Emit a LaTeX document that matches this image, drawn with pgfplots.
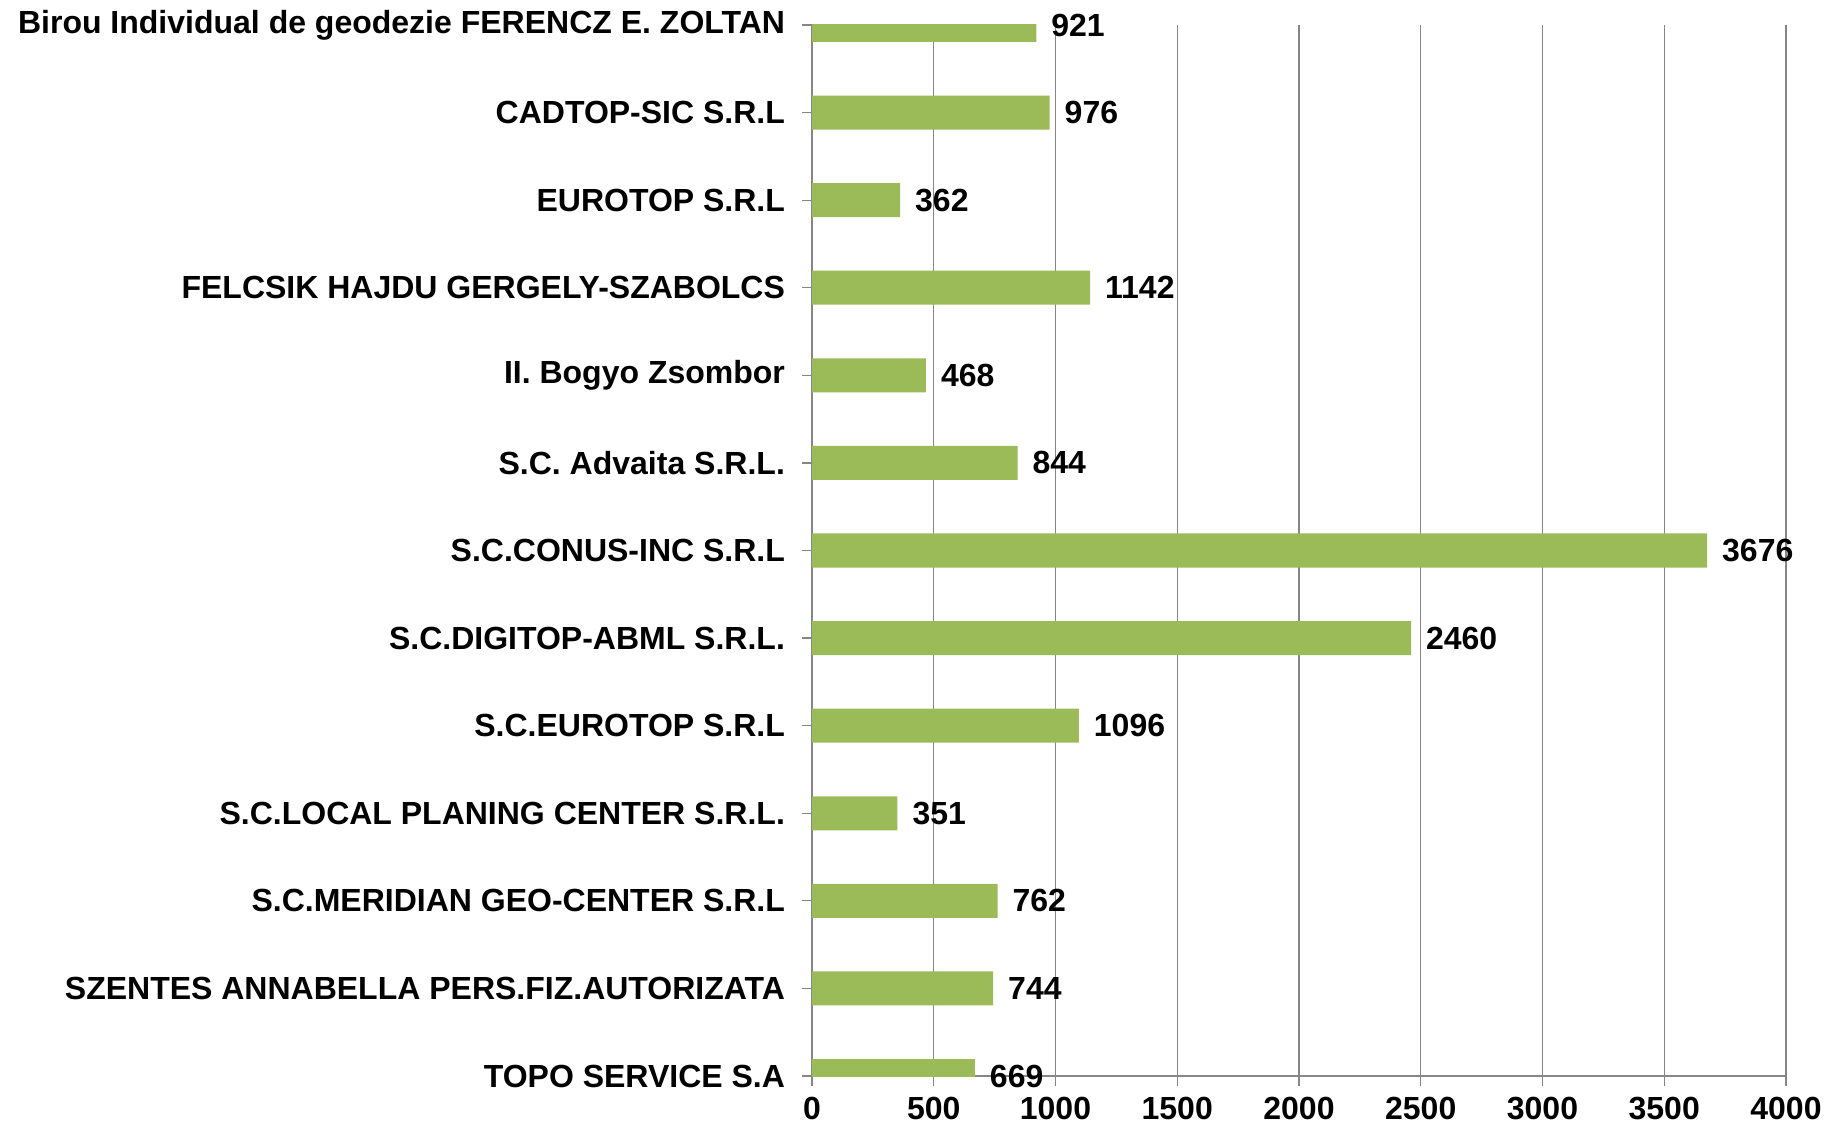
\documentclass[border=0pt]{standalone}
\usepackage{fontspec}
\setmainfont{Liberation Sans}
\usepackage{pgfplots}
\pgfplotsset{compat=1.18}
\definecolor{barGreen}{HTML}{9BBB59}
\definecolor{gridGray}{HTML}{868686}
\newcommand{\lblfont}{\bfseries\fontsize{16}{18}\selectfont}

\begin{document}
\begin{tikzpicture}
\begin{axis}[
  xbar,
  scale only axis,
  width=487pt, height=525.5pt,
  bar width=17pt,
  xmin=0, xmax=4000,
  ymin=0, ymax=12,
  xtick={0,500,...,4000},
  ytick={0,...,12},
  yticklabels={
    TOPO SERVICE S.A,
    SZENTES ANNABELLA PERS.FIZ.AUTORIZATA,
    S.C.MERIDIAN GEO-CENTER S.R.L,
    S.C.LOCAL PLANING CENTER S.R.L.,
    S.C.EUROTOP S.R.L,
    S.C.DIGITOP-ABML S.R.L.,
    S.C.CONUS-INC S.R.L\hspace{4.7pt},
    S.C. Advaita S.R.L.,
    II. Bogyo Zsombor,
    FELCSIK HAJDU GERGELY-SZABOLCS,
    EUROTOP S.R.L,
    CADTOP-SIC S.R.L,
    Birou Individual de geodezie FERENCZ E. ZOLTAN},
  axis x line*=bottom,
  axis y line*=left,
  axis line style={gridGray, line width=0.6pt, -},
  xmajorgrids,
  grid style={gridGray, line width=0.6pt},
  tick align=outside,
  major tick length=5pt,
  tick style={gridGray, line width=0.6pt},
  /pgf/number format/assume math mode=true,
  /pgf/number format/set thousands separator={},
  tick label style={font=\lblfont, text=black},
  yticklabel style={xshift=-5pt},
  xticklabel style={yshift=-2pt},
  nodes near coords,
  nodes near coords style={font=\lblfont, text=black, anchor=west, xshift=4pt},
]
  \addplot[fill=barGreen, draw=none] coordinates {
    (669,0) (744,1) (762,2) (351,3) (1096,4) (2460,5) (3676,6)
    (844,7) (468,8) (1142,9) (362,10) (976,11) (921,12)
  };
  \coordinate (bl) at (rel axis cs:0,0);
  \coordinate (tr) at (rel axis cs:1,1);
\end{axis}
\pgfresetboundingbox
\useasboundingbox ([xshift=-406pt,yshift=-25pt]bl) rectangle ([xshift=19.5pt,yshift=12.5pt]tr);
\end{tikzpicture}
\end{document}
